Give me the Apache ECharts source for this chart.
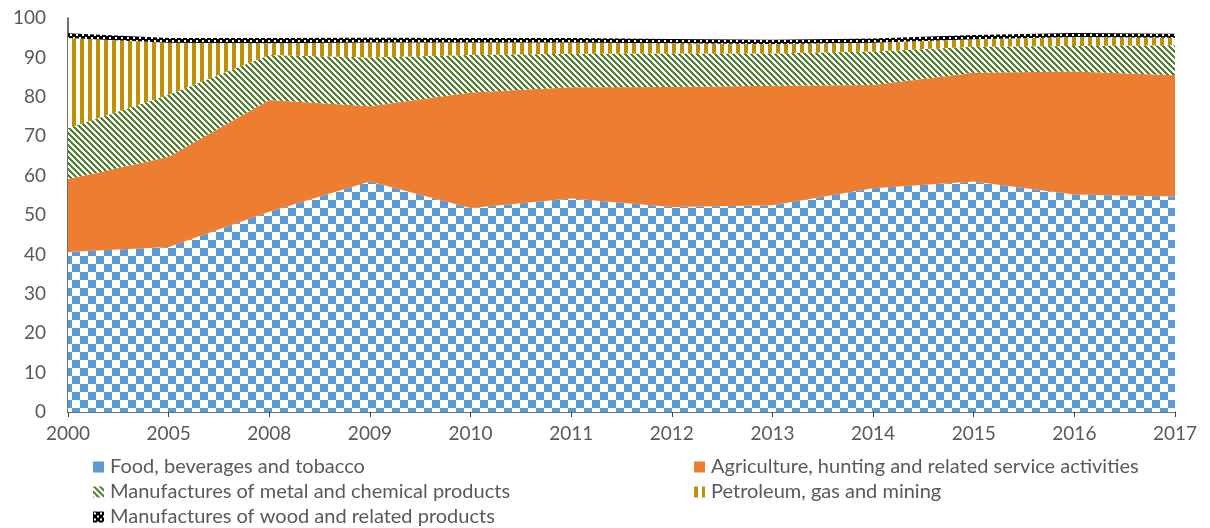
<!DOCTYPE html>
<html>
<head>
<meta charset="utf-8">
<script src="https://cdn.jsdelivr.net/npm/echarts@6/dist/echarts.min.js"></script>
<style>
  html, body { margin: 0; padding: 0; background: #fff; }
  #main { width: 1210px; height: 528px; }
</style>
</head>
<body>
<div id="main"></div>
<script>
var years = ['2000', '2005', '2008', '2009', '2010', '2011', '2012', '2013', '2014', '2015', '2016', '2017'];

var food = [40.6, 41.9, 50.8, 58.5, 51.8, 54.2, 52.0, 52.5, 56.8, 58.5, 55.2, 54.7];
var agriculture = [18.5, 22.9, 28.4, 19.1, 29.3, 28.2, 30.5, 30.3, 26.2, 27.6, 31.2, 30.8];
var metalChem = [12.9, 15.7, 11.4, 12.4, 9.5, 8.5, 8.5, 8.2, 8.5, 6.6, 6.5, 7.6];
var petroleum = [22.9, 13.2, 3.0, 3.8, 3.2, 2.9, 2.6, 2.4, 2.2, 1.9, 2.3, 1.9];
var wood = [1.2, 1.2, 1.3, 1.2, 1.1, 1.1, 1.1, 1.1, 1.1, 1.1, 1.0, 1.0];

var names = [
  'Food, beverages and tobacco',
  'Agriculture, hunting and related service activities',
  'Manufactures of metal and chemical products',
  'Petroleum, gas and mining',
  'Manufactures of wood and related products'
];

// small canvas tiles used as fill patterns
function tile(size, draw) {
  var c = document.createElement('canvas');
  c.width = size; c.height = size;
  var ctx = c.getContext('2d');
  ctx.fillStyle = '#fff';
  ctx.fillRect(0, 0, size, size);
  draw(ctx);
  return { image: c, repeat: 'repeat' };
}

var checker = tile(16, function (ctx) {
  ctx.fillStyle = '#5B9BD5';
  ctx.fillRect(0, 0, 8, 8);
  ctx.fillRect(8, 8, 8, 8);
});

var diag = tile(6, function (ctx) {
  ctx.fillStyle = '#548235';
  for (var y = 0; y < 6; y++) {
    for (var x = 0; x < 6; x++) {
      if (((x - y) % 6 + 6) % 6 < 3) ctx.fillRect(x, y, 1, 1);
    }
  }
});

var vstripe = tile(8, function (ctx) {
  ctx.fillStyle = '#BF9000';
  ctx.fillRect(0, 0, 4, 8);
});

var grid = tile(6, function (ctx) {
  ctx.fillStyle = '#000';
  ctx.fillRect(0, 0, 6, 6);
  ctx.fillStyle = '#fff';
  ctx.fillRect(1, 1, 2, 2);
  ctx.fillRect(4, 4, 2, 2);
});

var fills = [checker, '#ED7D31', diag, vstripe, grid];
var values = [food, agriculture, metalChem, petroleum, wood];

var series = [];
for (var i = 0; i < names.length; i++) {
  series.push({
    name: names[i],
    type: 'line',
    stack: 'total',
    data: values[i],
    symbol: 'none',
    itemStyle: { color: fills[i] },
    lineStyle: { width: 0, opacity: 0 },
    areaStyle: { color: fills[i], opacity: 1 },
    emphasis: { disabled: true }
  });
}

var legendText = { color: '#595959', fontSize: 20, fontFamily: 'Lato', lineHeight: 20, padding: [0, 0, 0, 1] };

var option = {
  animation: false,
  backgroundColor: '#fff',
  grid: { left: 68, right: 35, top: 18, bottom: 116 },
  legend: [
    {
      orient: 'vertical',
      left: 88,
      top: 452,
      height: 78,
      itemWidth: 11,
      itemHeight: 11,
      itemGap: 5,
      icon: 'rect',
      textStyle: legendText,
      data: [
        { name: names[0], itemStyle: { color: '#5B9BD5' } },
        names[2],
        names[4]
      ]
    },
    {
      orient: 'vertical',
      left: 689,
      top: 452,
      height: 78,
      itemWidth: 11,
      itemHeight: 11,
      itemGap: 5,
      icon: 'rect',
      textStyle: legendText,
      data: [names[1], names[3]]
    }
  ],
  xAxis: {
    type: 'category',
    data: years,
    boundaryGap: false,
    axisLine: { lineStyle: { color: '#404040', width: 1.5 } },
    axisTick: { show: true, length: 5, lineStyle: { color: '#404040' } },
    axisLabel: { color: '#595959', fontSize: 19, fontFamily: 'Lato', margin: 12 }
  },
  yAxis: {
    type: 'value',
    min: 0,
    max: 100,
    interval: 10,
    axisLine: { show: true, lineStyle: { color: '#404040', width: 1.5 } },
    axisTick: { show: false },
    splitLine: { show: false },
    axisLabel: { color: '#595959', fontSize: 19, fontFamily: 'Lato', margin: 22 }
  },
  series: series
};

var myChart = echarts.init(document.getElementById('main'));
myChart.setOption(option);
</script>
</body>
</html>
